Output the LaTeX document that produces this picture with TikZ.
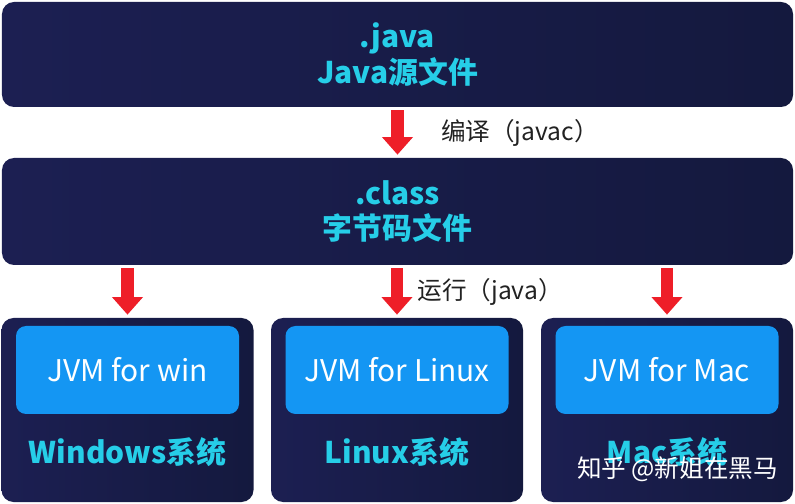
\documentclass[tikz,border=0pt]{standalone}
\usepackage{fontspec}
\setmainfont{Noto Sans CJK SC}
\usetikzlibrary{arrows.meta}
\usetikzlibrary{positioning}

\definecolor{navyL}{RGB}{28,31,82}
\definecolor{navyR}{RGB}{20,25,62}
\definecolor{cyantext}{RGB}{38,206,232}
\definecolor{jvmblue}{RGB}{20,150,243}
\definecolor{arrowred}{RGB}{238,30,40}
\definecolor{labelgray}{RGB}{34,34,34}

\tikzset{
  stagebox/.style={rounded corners=0.24cm, left color=navyL, right color=navyR,
    minimum width=15.82cm, align=center, text=cyantext,
    font=\fontsize{17}{20}\selectfont\bfseries},
  osbox/.style={rounded corners=0.24cm, left color=navyL, right color=navyR,
    minimum width=5.04cm, minimum height=3.68cm},
  jvmbox/.style={rounded corners=0.2cm, fill=jvmblue, text=white,
    minimum width=4.46cm, minimum height=1.76cm,
    font=\fontsize{17}{20}\selectfont},
  oslabel/.style={text=cyantext, font=\fontsize{17}{20}\selectfont\bfseries},
  redarrow/.style={arrowred, line width=7pt,
    -{Triangle[width=17pt,length=10pt]}, shorten <=1.7pt, shorten >=1.7pt},
  steplabel/.style={text=labelgray, font=\fontsize{14}{16}\selectfont}
}

\begin{document}
\begin{tikzpicture}
\useasboundingbox [fill=white] (0,0) rectangle (15.9,-10.08);

\node [stagebox, minimum height=2.1cm]  (java)  at (7.95,-1.09) {.java\\Java源文件};
\node [stagebox, minimum height=2.14cm] (class) at (7.95,-4.23) {.class\\字节码文件};

\node [osbox] (win)   at (2.55,-8.2)  {};
\node [osbox] (linux) at (7.94,-8.2)  {};
\node [osbox] (mac)   at (13.34,-8.2) {};

\node [jvmbox] (jvmwin)   at (2.55,-7.4)  {JVM for win};
\node [jvmbox] (jvmlinux) at (7.94,-7.4)  {JVM for Linux};
\node [jvmbox] (jvmmac)   at (13.34,-7.4) {JVM for Mac};

\node [oslabel] (winname)   at (2.55,-9.04)  {Windows系统};
\node [oslabel] (linuxname) at (7.94,-9.04)  {Linux系统};
\node [oslabel] (macname)   at (13.34,-9.04) {Mac系统};

\draw [redarrow] (java.south) -- (class.north);
\node [steplabel] (compile) at (10.4,-2.66) {编译（javac）};

\draw [redarrow] (class.south -| win.north)   -- (win.north);
\draw [redarrow] (class.south -| linux.north) -- (linux.north);
\draw [redarrow] (class.south -| mac.north)   -- (mac.north);
\node [steplabel] (run) at (9.8,-5.84) {运行（java）};

\node [text=white, font=\fontsize{14}{16}\selectfont] (mark) at (13.55,-9.38) {知乎 @新姐在黑马};
\end{tikzpicture}
\end{document}
